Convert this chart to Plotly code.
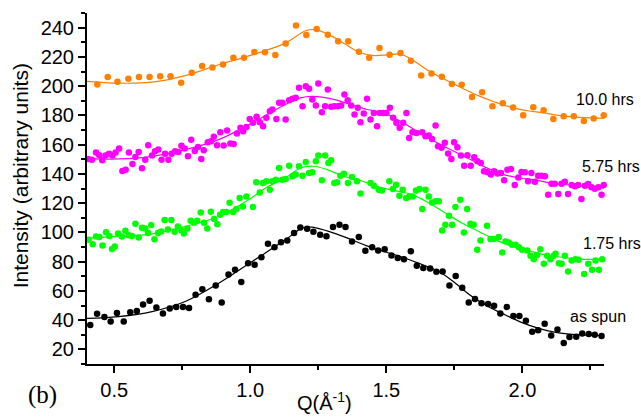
import plotly.graph_objects as go

# ---- measured intensities, offset per annealing time ----
# 10.0 hrs
x_10h = [0.438, 0.476, 0.512, 0.552, 0.591, 0.630, 0.669, 0.707, 0.746, 0.785,
         0.823, 0.861, 0.900, 0.938, 0.977, 1.015, 1.054, 1.092, 1.130, 1.168,
         1.206, 1.244, 1.285, 1.323, 1.360, 1.399, 1.437, 1.475, 1.512, 1.552,
         1.590, 1.628, 1.666, 1.704, 1.741, 1.777, 1.815, 1.852, 1.890, 1.928,
         1.966, 2.003, 2.040, 2.078, 2.114, 2.152, 2.189, 2.226, 2.262, 2.299]
y_10h = [201.1, 206.3, 203.0, 205.0, 206.3, 206.3, 206.8, 206.8, 202.3, 209.2,
         213.7, 212.8, 214.8, 219.4, 219.4, 223.3, 223.1, 221.2, 229.2, 241.4,
         234.9, 239.0, 235.2, 230.6, 230.6, 223.5, 219.4, 226.0, 221.4, 222.6,
         217.3, 207.3, 208.6, 206.4, 201.4, 200.9, 192.6, 195.8, 186.3, 188.3,
         185.3, 180.1, 185.6, 183.5, 177.6, 179.4, 179.4, 176.2, 177.8, 180.1]

# 5.75 hrs
x_575h = [0.404, 0.418, 0.433, 0.445, 0.456, 0.468, 0.481, 0.493, 0.505, 0.518,
          0.530, 0.542, 0.554, 0.567, 0.578, 0.590, 0.602, 0.614, 0.625, 0.639,
          0.650, 0.662, 0.674, 0.687, 0.699, 0.711, 0.724, 0.736, 0.747, 0.759,
          0.771, 0.783, 0.796, 0.808, 0.820,
          0.829, 0.844, 0.856, 0.866, 0.878, 0.890, 0.902, 0.915, 0.927, 0.939,
          0.951, 0.964, 0.974, 0.986, 0.998, 1.010, 1.023, 1.035, 1.047, 1.059,
          1.072, 1.081, 1.096, 1.106, 1.118, 1.130, 1.143, 1.155, 1.167, 1.179,
          1.192, 1.204, 1.216, 1.228, 1.241, 1.250, 1.263, 1.275, 1.285, 1.297,
          1.309, 1.322, 1.334, 1.346, 1.358, 1.371, 1.383, 1.395, 1.405, 1.417,
          1.429, 1.442, 1.454, 1.466, 1.476, 1.488, 1.500, 1.513, 1.525, 1.537,
          1.549, 1.562, 1.574, 1.584, 1.596, 1.611,
          1.632, 1.644, 1.656, 1.668, 1.681, 1.690, 1.703, 1.715, 1.727, 1.739,
          1.749, 1.761, 1.774, 1.786, 1.798, 1.810, 1.823, 1.835, 1.847, 1.859,
          1.872, 1.884, 1.896, 1.908, 1.921, 1.933, 1.945, 1.958, 1.972, 1.985,
          1.997, 2.009, 2.021, 2.033, 2.046, 2.058, 2.070, 2.083, 2.095, 2.107,
          2.119, 2.132, 2.144, 2.156, 2.168, 2.181, 2.193, 2.205, 2.217, 2.230,
          2.242, 2.254, 2.266, 2.279, 2.291, 2.299]
y_575h = [150.2, 149.7, 154.7, 152.7, 149.3, 152.5, 153.8, 152.5, 154.7, 157.3,
          142.0, 142.9, 154.7, 146.8, 151.6, 155.0, 143.8, 149.7, 159.5, 152.5,
          155.4, 156.6, 149.7, 153.8, 149.7, 153.8, 155.4, 155.0, 159.3, 157.3,
          152.0, 163.4, 155.7, 158.4, 150.2,
          156.2, 161.6, 162.3, 165.3, 159.6, 168.5, 159.4, 169.7, 160.7, 160.5,
          167.6, 171.5, 169.2, 172.1, 177.6, 174.9, 179.0, 175.3, 172.6, 178.3,
          182.9, 184.0, 177.6, 188.6, 188.6, 177.2, 190.4, 191.3, 192.0, 198.9,
          186.3, 200.0, 198.2, 190.9, 186.8, 201.8, 182.2, 186.3, 197.7, 185.9,
          186.3, 186.3, 186.8, 194.3, 190.4, 186.8, 180.6, 185.2, 175.3, 181.3,
          191.3, 177.2, 181.7, 172.6, 181.7, 181.7, 181.7, 185.2, 178.3, 174.9,
          171.5, 174.9, 181.7, 164.6, 168.5, 168.0,
          168.5, 165.8, 166.2, 163.9, 173.1, 158.9, 157.8, 161.2, 153.9, 150.2,
          161.6, 158.2, 152.5, 145.6, 152.7, 145.6, 151.4, 148.6, 147.5, 141.8,
          141.1, 139.5, 141.8, 140.2, 140.6, 135.6, 142.9, 143.4, 132.4, 137.6,
          141.3, 141.1, 134.9, 140.6, 134.7, 138.8, 138.8, 138.3, 125.8, 133.3,
          133.3, 126.2, 133.3, 134.7, 126.2, 132.4, 131.5, 132.4, 122.8, 131.9,
          133.1, 130.8, 129.9, 130.8, 125.8, 132.4]

# 1.75 hrs
x_175h = [0.406, 0.421, 0.433, 0.445, 0.457, 0.470, 0.482, 0.492, 0.502, 0.514,
          0.528, 0.541, 0.553, 0.565, 0.578, 0.590, 0.602, 0.614, 0.624, 0.636,
          0.648, 0.661, 0.673, 0.685, 0.697, 0.710, 0.722, 0.734, 0.747, 0.756,
          0.769, 0.781, 0.793, 0.805, 0.818, 0.830, 0.842, 0.855, 0.867, 0.879,
          0.889, 0.900, 0.912, 0.924, 0.937, 0.949,
          0.961, 0.973, 0.986, 1.010, 1.022, 1.035, 1.047, 1.059, 1.072, 1.081,
          1.094, 1.106, 1.118, 1.130, 1.143, 1.155, 1.167, 1.179, 1.192, 1.204,
          1.216, 1.228, 1.241, 1.250, 1.263, 1.275, 1.287, 1.297, 1.309, 1.319,
          1.331, 1.344,
          1.359, 1.374, 1.392, 1.405, 1.442, 1.454, 1.472, 1.484, 1.511, 1.524,
          1.536, 1.548, 1.560, 1.573, 1.585, 1.597, 1.609, 1.622, 1.632, 1.644,
          1.656, 1.668, 1.681, 1.693, 1.705, 1.717, 1.730, 1.742, 1.754, 1.772,
          1.785, 1.797, 1.809, 1.821, 1.834, 1.846, 1.870, 1.883, 1.895, 1.913,
          1.926, 1.938, 1.950, 1.962, 1.975, 1.987, 1.999, 2.018, 2.030, 2.042,
          2.054, 2.066, 2.079, 2.091, 2.103, 2.115, 2.122, 2.134, 2.144, 2.156,
          2.168, 2.181, 2.195, 2.207, 2.227, 2.242, 2.256, 2.269, 2.281, 2.293]
y_175h = [94.9, 91.9, 97.2, 96.9, 91.0, 100.1, 97.6, 88.7, 90.3, 99.2,
          97.2, 101.1, 98.1, 97.6, 105.9, 96.5, 103.1, 102.7, 99.5, 105.0,
          95.3, 99.5, 100.6, 108.4, 102.0, 108.4, 100.4, 104.0, 101.3, 99.2,
          102.7, 107.9, 106.5, 107.9, 113.6, 106.5, 102.7, 114.1, 109.1, 105.6,
          112.0, 113.9, 113.9, 120.3, 113.9, 115.9,
          123.5, 117.7, 124.6, 117.3, 134.2, 127.3, 133.7, 134.9, 129.2, 134.9,
          136.0, 144.0, 136.0, 136.5, 145.6, 138.3, 139.5, 145.2, 138.8, 148.1,
          140.6, 141.1, 148.6, 152.5, 135.6, 152.5, 147.5, 149.3, 133.7, 134.2,
          138.8, 140.1,
          133.8, 137.9, 134.9, 126.5, 133.8, 131.9, 129.2, 128.7, 134.9, 129.7,
          132.6, 125.1, 129.2, 123.5, 124.6, 124.6, 128.7, 129.7, 115.9, 129.2,
          124.6, 120.5, 121.2, 121.2, 101.3, 105.2, 111.4, 105.2, 117.3, 122.3,
          99.9, 115.9, 105.9, 105.2, 88.1, 94.5, 104.5, 95.4, 95.4, 96.8,
          86.2, 93.8, 93.1, 91.5, 91.5, 89.9, 88.1, 87.6, 84.0, 81.7,
          84.6, 88.5, 78.5, 84.0, 81.7, 84.0, 85.3, 78.9, 78.5, 84.0,
          73.2, 80.8, 81.7, 81.2, 71.6, 78.5, 74.4, 80.8, 74.4, 81.7]

# as spun
x_spun = [0.412, 0.437, 0.464, 0.487, 0.510, 0.535, 0.559, 0.583, 0.606, 0.630,
          0.655, 0.679, 0.704, 0.728, 0.753, 0.775, 0.799, 0.824, 0.848, 0.873,
          0.895, 0.920, 0.944, 0.967, 0.992, 1.016, 1.041, 1.065, 1.089, 1.113,
          1.136, 1.161, 1.184, 1.209, 1.232, 1.257, 1.280, 1.304, 1.328, 1.350,
          1.374, 1.399, 1.423, 1.448, 1.470, 1.494, 1.519, 1.542, 1.565, 1.590,
          1.612, 1.636, 1.661, 1.684, 1.707, 1.732, 1.755, 1.779, 1.803, 1.826,
          1.850, 1.874, 1.896, 1.919, 1.943, 1.967, 1.989, 2.013, 2.036, 2.058,
          2.082, 2.106, 2.129, 2.152, 2.173, 2.198, 2.220, 2.244, 2.266, 2.291]
y_spun = [36.6, 44.4, 42.1, 39.1, 44.8, 39.1, 45.3, 46.2, 50.6, 53.3,
          48.7, 44.6, 48.0, 49.0, 49.0, 48.3, 57.4, 61.1, 54.3, 63.6,
          52.0, 71.2, 74.4, 66.1, 78.9, 77.8, 83.0, 92.2, 89.9, 93.3,
          94.5, 99.5, 103.4, 102.5, 100.4, 98.3, 97.4, 103.6, 105.2, 103.6,
          93.8, 96.8, 87.4, 89.9, 87.6, 88.5, 84.2, 82.4, 81.7, 87.1,
          77.1, 75.7, 75.3, 73.0, 73.2, 63.6, 70.2, 62.2, 52.0, 54.5,
          51.5, 51.1, 49.9, 44.6, 49.0, 42.8, 42.8, 39.5, 32.0, 33.1,
          37.5, 29.5, 33.6, 24.3, 28.4, 28.6, 30.9, 30.5, 30.0, 29.1]

# ---- fitted curves ----
fx_10h = [0.40, 0.516, 0.639, 0.761, 0.884, 1.007, 1.129, 1.203, 1.239, 1.301,
          1.35, 1.399, 1.448, 1.509, 1.552, 1.595, 1.656, 1.717, 1.779, 1.840,
          1.901, 1.963, 2.024, 2.085, 2.15, 2.30]
fy_10h = [203.3, 202.0, 202.7, 207.2, 214.6, 221.4, 229.4, 237.9, 238.6, 234.0,
          228.6, 223.3, 221.0, 221.4, 221.9, 218.0, 210.5, 204.3, 198.6, 193.3,
          189.0, 185.3, 183.0, 181.5, 179.5, 178.0]

fx_575h = [0.40, 0.516, 0.639, 0.761, 0.884, 1.007, 1.129, 1.184, 1.230, 1.307,
           1.368, 1.429, 1.491, 1.552, 1.613, 1.687, 1.748, 1.809, 1.870, 1.932,
           1.993, 2.054, 2.116, 2.177, 2.30]
fy_575h = [150.4, 150.2, 152.0, 156.6, 163.4, 174.9, 187.4, 192.0, 193.0, 190.9,
           187.4, 184.0, 181.7, 176.0, 169.2, 161.2, 155.5, 149.8, 144.0, 139.5,
           137.2, 135.6, 133.3, 132.4, 130.3]

fx_175h = [0.40, 0.516, 0.639, 0.761, 0.884, 1.0, 1.062, 1.123, 1.184, 1.233,
           1.282, 1.344, 1.405, 1.472, 1.533, 1.595, 1.656, 1.717, 1.779, 1.840,
           1.901, 1.962, 2.024, 2.085, 2.146, 2.207, 2.30]
fy_175h = [96.1, 97.2, 99.0, 104.1, 110.9, 123.0, 131.0, 136.5, 144.0, 145.2,
           142.9, 138.3, 135.5, 131.0, 128.5, 125.8, 120.1, 113.2, 106.3, 100.6,
           94.9, 90.8, 87.4, 84.6, 83.0, 81.7, 81.7]

fx_spun = [0.40, 0.516, 0.639, 0.761, 0.884, 1.007, 1.129, 1.19, 1.227, 1.307,
           1.368, 1.429, 1.491, 1.552, 1.613, 1.693, 1.754, 1.815, 1.876, 1.938,
           1.999, 2.060, 2.122, 2.183, 2.244, 2.30]
fy_spun = [41.2, 42.4, 45.8, 52.7, 65.2, 80.1, 94.9, 102.9, 103.6, 99.5,
           95.3, 90.8, 86.9, 83.5, 79.3, 73.2, 65.2, 56.1, 49.2, 43.5,
           38.3, 34.4, 31.6, 30.3, 29.8, 29.3]

series_labels = ["10.0 hrs", "5.75 hrs", "1.75 hrs", "as spun"]
label_x = [2.191, 2.210, 2.216, 2.167]
label_y = [190.9, 145.1, 92.1, 42.3]

colors = ["#FF8000", "#FF00FF", "#00FF00", "#000000"]
points = [(x_10h, y_10h), (x_575h, y_575h), (x_175h, y_175h), (x_spun, y_spun)]
fits = [(fx_10h, fy_10h), (fx_575h, fy_575h), (fx_175h, fy_175h), (fx_spun, fy_spun)]

FONT = "Liberation Sans, Arial, sans-serif"

fig = go.Figure()
for (px, py), (lx, ly), c in zip(points, fits, colors):
    fig.add_trace(go.Scatter(x=px, y=py, mode="markers",
                             marker=dict(color=c, size=6.5, line=dict(width=0)),
                             showlegend=False, cliponaxis=False))
    fig.add_trace(go.Scatter(x=lx, y=ly, mode="lines",
                             line=dict(color=c, width=1.2, shape="spline", smoothing=1.0),
                             showlegend=False))

annotations = []
for t, ax_, ay_ in zip(series_labels, label_x, label_y):
    annotations.append(dict(text=t, x=ax_, y=ay_, xref="x", yref="y",
                            xanchor="left", yanchor="middle", showarrow=False,
                            font=dict(family=FONT, size=16, color="black")))
annotations += [
    dict(text="(b)", x=-0.118, y=-0.088, xref="paper", yref="paper",
         xanchor="left", yanchor="middle", showarrow=False,
         font=dict(family="Liberation Serif, Times New Roman, serif", size=25, color="black")),
    dict(text="Q(Å<sup>-1</sup>)", x=0.46, y=-0.108, xref="paper", yref="paper",
         xanchor="center", yanchor="middle", showarrow=False,
         font=dict(family=FONT, size=20, color="black")),
    dict(text="Intensity (arbitrary units)", x=-0.128, y=0.537, xref="paper", yref="paper",
         xanchor="center", yanchor="middle", textangle=-90, showarrow=False,
         font=dict(family=FONT, size=21, color="black")),
]

axis_common = dict(showgrid=False, zeroline=False, showline=True, linecolor="black",
                   linewidth=2, ticks="outside", tickcolor="black", tickwidth=1.5,
                   ticklen=7, mirror=False,
                   tickfont=dict(family=FONT, size=20, color="black"))

fig.update_layout(
    width=641, height=419,
    margin=dict(l=87, r=37, t=13, b=55),
    paper_bgcolor="white", plot_bgcolor="white",
    xaxis=dict(range=[0.4, 2.3], tick0=0, dtick=0.5, tickformat=".1f",
               minor=dict(dtick=0.25, ticks="outside", ticklen=4, tickcolor="black", tickwidth=1.5),
               **axis_common),
    yaxis=dict(range=[10, 250], tick0=0, dtick=20,
               minor=dict(dtick=10, ticks="outside", ticklen=4, tickcolor="black", tickwidth=1.5),
               **axis_common),
    annotations=annotations,
)

fig.write_html("out.html")
